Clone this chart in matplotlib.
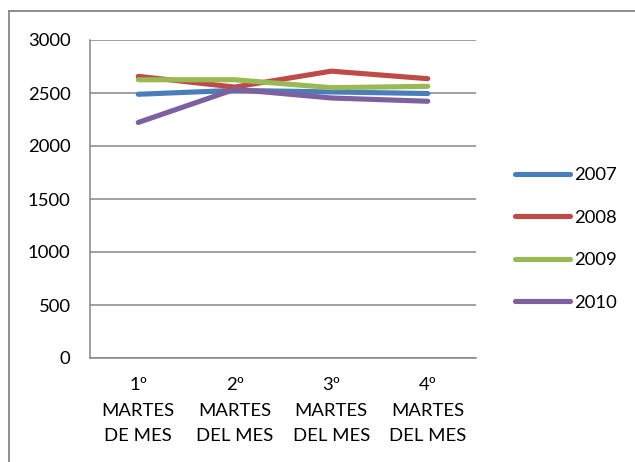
import matplotlib
matplotlib.use("Agg")
import matplotlib.pyplot as plt
from matplotlib.lines import Line2D

categories = ["1º\nMARTES\nDE MES", "2º\nMARTES\nDEL MES", "3º\nMARTES\nDEL MES", "4º\nMARTES\nDEL MES"]
years = ["2007", "2008", "2009", "2010"]
v2007 = [2488, 2525, 2510, 2495]
v2008 = [2657, 2556, 2706, 2635]
v2009 = [2625, 2625, 2550, 2563]
v2010 = [2222, 2535, 2453, 2422]
series = [v2007, v2008, v2009, v2010]
colors = ["#4A7EBB", "#BE4B48", "#98B954", "#7D60A0"]
yticks = [0, 500, 1000, 1500, 2000, 2500, 3000]

plt.rcParams["font.family"] = ["Lato", "DejaVu Sans"]
FS = 13.3
GRAY = "#868686"

fig = plt.figure(figsize=(6.35, 4.62), dpi=100)
ax = fig.add_axes([90 / 635, 1 - 358 / 462, (476 - 90) / 635, (358 - 40) / 462])

x = list(range(len(categories)))
for vals, c, lab in zip(series, colors, years):
    ax.plot(x, vals, color=c, lw=3.7, solid_capstyle="round", label=lab)

ax.set_xlim(-0.5, len(categories) - 0.5)
ax.set_ylim(0, 3000)
ax.set_yticks(yticks)
ax.set_xticks(x)
ax.set_xticklabels(categories, fontsize=FS, linespacing=1.7)
ax.tick_params(axis="y", length=0, pad=14, labelsize=FS)
ax.tick_params(axis="x", length=0, pad=14)
ax.yaxis.grid(True, color=GRAY, lw=1.1)
ax.set_axisbelow(True)
for s in ["top", "right"]:
    ax.spines[s].set_visible(False)
for s in ["left", "bottom"]:
    ax.spines[s].set_color(GRAY)
    ax.spines[s].set_linewidth(1.1)

leg = ax.legend(loc="center left", bbox_to_anchor=(515 / 635, 1 - 239 / 462),
                bbox_transform=fig.transFigure, frameon=False, fontsize=FS,
                borderpad=0, borderaxespad=0, handlelength=3.0,
                handletextpad=0.2, labelspacing=1.43)
for h in leg.get_lines():
    h.set_linewidth(3.7)
    h.set_solid_capstyle("round")

# chart frame border (left and top edges)
fig.add_artist(Line2D([9 / 635, 9 / 635], [0, 1 - 11 / 462], transform=fig.transFigure,
                      color=GRAY, lw=1.3))
fig.add_artist(Line2D([9 / 635, 1], [1 - 11 / 462, 1 - 11 / 462], transform=fig.transFigure,
                      color=GRAY, lw=1.3))

fig.savefig("out.png", dpi=100)
